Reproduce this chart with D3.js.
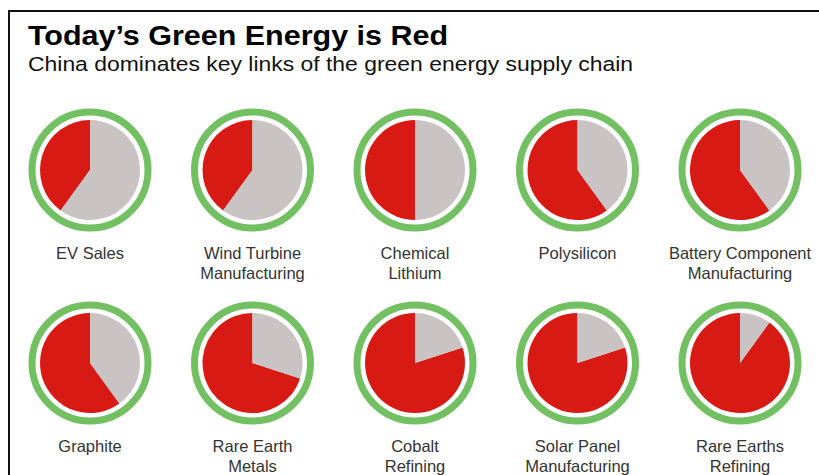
<!DOCTYPE html>
<html>
<head>
<meta charset="utf-8">
<script src="https://cdn.jsdelivr.net/npm/d3@7"></script>
<style>
  body { margin: 0; background: #fff; }
  svg { display: block; font-family: "Liberation Sans", Arial, sans-serif; }
</style>
</head>
<body>
<svg id="chart" width="819" height="475"></svg>
<script>
// China's share of each link (percent)
const links = [
  ["EV Sales"],
  ["Wind Turbine", "Manufacturing"],
  ["Chemical", "Lithium"],
  ["Polysilicon"],
  ["Battery Component", "Manufacturing"],
  ["Graphite"],
  ["Rare Earth", "Metals"],
  ["Cobalt", "Refining"],
  ["Solar Panel", "Manufacturing"],
  ["Rare Earths", "Refining"]
];
const chinaShare = [40, 40, 50, 60, 60, 60, 70, 80, 80, 90];

const width = 819, height = 475;
const svg = d3.select("#chart");

// frame (only left and top edges show in the crop)
svg.append("path")
  .attr("d", `M${width + 5},11H9V${height + 5}`)
  .attr("fill", "none")
  .attr("stroke", "#111")
  .attr("stroke-width", 2);

// the original type is set a little wide, so stretch to its measured width
svg.append("text")
  .attr("x", 28).attr("y", 44.5)
  .attr("font-size", 28.5).attr("font-weight", "bold")
  .attr("fill", "#000")
  .attr("textLength", 420).attr("lengthAdjust", "spacingAndGlyphs")
  .text("Today\u2019s Green Energy is Red");

svg.append("text")
  .attr("x", 28).attr("y", 70.5)
  .attr("font-size", 20.5)
  .attr("fill", "#111")
  .attr("textLength", 605).attr("lengthAdjust", "spacingAndGlyphs")
  .text("China dominates key links of the green energy supply chain");

// grid of pies
const x = d3.scalePoint().domain(d3.range(5)).range([90, 740]);
const y = d3.scalePoint().domain([0, 1]).range([170, 363]);

const r = 50;
const pie = d3.pie().sort(null).startAngle(0).endAngle(-2 * Math.PI);
const arc = d3.arc().innerRadius(0).outerRadius(r);
const colors = ["#d81a14", "#c9c3c3"];

const cells = svg.selectAll("g.cell")
  .data(chinaShare.map((v, i) => ({ v, label: links[i], i })))
  .join("g")
  .attr("class", "cell")
  .attr("transform", d => `translate(${x(d.i % 5)},${y(Math.floor(d.i / 5))})`);

cells.append("circle")
  .attr("r", 58)
  .attr("fill", "none")
  .attr("stroke", "#72c062")
  .attr("stroke-width", 7);

cells.selectAll("path")
  .data(d => pie([d.v, 100 - d.v]))
  .join("path")
  .attr("d", arc)
  .attr("fill", (d, i) => colors[i]);

cells.append("text")
  .attr("text-anchor", "middle")
  .attr("font-size", 16.5)
  .attr("fill", "#333")
  .selectAll("tspan")
  .data(d => d.label)
  .join("tspan")
  .attr("x", 0)
  .attr("y", (d, i) => 89 + i * 20)
  .text(d => d);
</script>
</body>
</html>
